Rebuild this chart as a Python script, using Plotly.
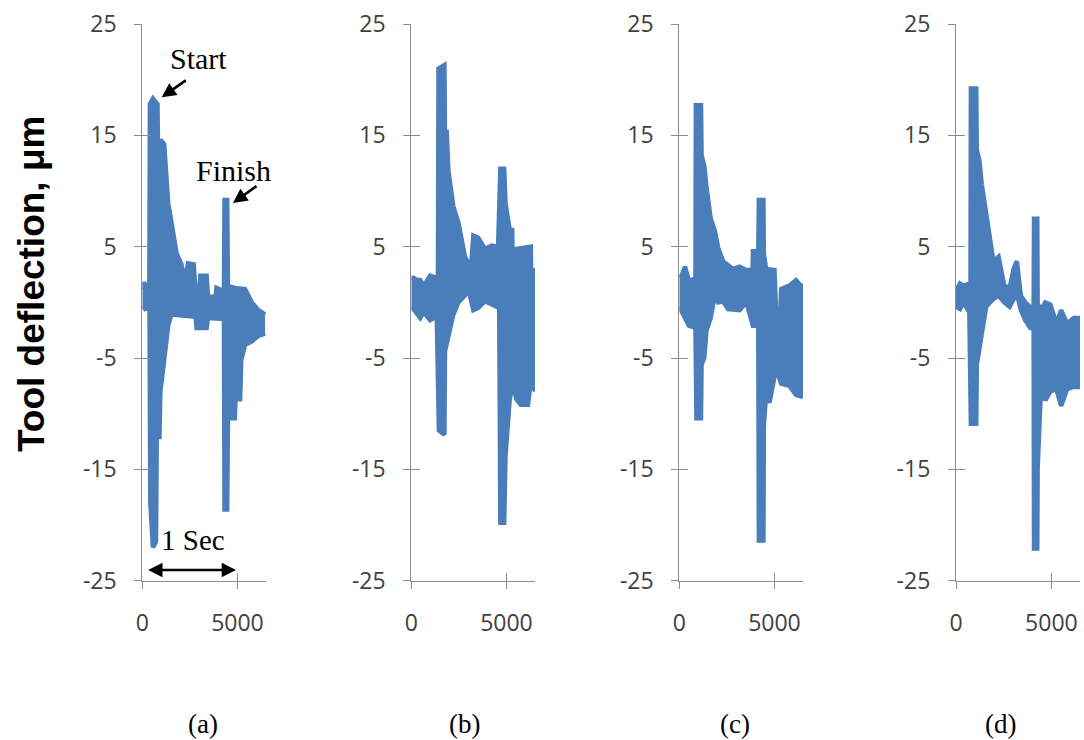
import plotly.graph_objects as go

W, H = 1084, 740

# ---------------- data (upper / lower envelope of the dense signal) ----------------
Y_TICKS = [-25, -15, -5, 5, 15, 25]
X_TICKS = [0, 5000]
PANEL_LABELS = ["(a)", "(b)", "(c)", "(d)"]

# panel (a)
xu_a = [0, 100, 250, 370, 400, 560, 800, 830, 900, 950, 1150, 1230, 1360, 1530, 1800, 2060, 2240, 2400,
        2700, 2800, 3000, 3050, 3380, 3450, 3850, 3900, 4200, 4290, 4320, 4460, 4500, 4860, 5400, 5750,
        6100, 6450]
yu_a = [1.2, 1.8, 1.0, 1.2, 17.8, 18.3, 17.8, 12.7, 12.7, 14.6, 14.2, 11.5, 8.9, 7.2, 4.4, 3.4, 1.8, 3.5,
        3.4, 1.0, 1.0, 2.4, 2.4, 0.5, 0.5, 1.3, 1.0, 1.0, 9.2, 9.2, 1.5, 1.3, 1.2, 0.0,
        -0.7, -1.1]
xl_a = [0, 150, 300, 380, 420, 560, 720, 760, 900, 950, 1100, 1230, 1360, 1530, 2800, 2850, 3380, 3450,
        4200, 4290, 4320, 4460, 4500, 4860, 4900, 5140, 5200, 5400, 5760, 6100, 6450]
yl_a = [-0.3, -0.6, -0.5, -0.3, -18.0, -22.0, -21.5, -12.1, -12.1, -8.0, -5.9, -3.8, -2.1, -1.1, -1.3, -2.3, -2.3, -1.4,
        -1.5, -1.5, -18.6, -18.6, -10.4, -10.4, -8.7, -8.7, -5.2, -3.8, -3.5, -3.0, -2.8]

# panel (b)
xu_b = [0, 120, 300, 470, 650, 990, 1340, 1400, 1430, 1740, 1770, 1860, 1950, 2210, 2470, 2820, 3030, 3150,
        3260, 3520, 3870, 4220, 4560, 4680, 4880, 4950, 5170, 5300, 5350, 5500, 5520, 6130, 6280, 6300,
        6350, 6500]
yu_b = [2.2, 2.2, 2.0, 2.0, 1.5, 2.4, 2.2, 2.2, 21.0, 21.3, 15.3, 15.3, 11.8, 8.6, 7.2, 4.1, 3.4, 3.4,
        6.0, 5.8, 4.8, 5.1, 5.0, 12.0, 12.0, 8.9, 6.5, 6.5, 1.0, 1.0, 4.8, 5.0, 5.0, 1.7,
        2.9, 2.9]
xl_b = [0, 120, 470, 650, 990, 1340, 1450, 1740, 1770, 1950, 2210, 2470, 2820, 3030, 3260, 3520, 3870, 4560,
        4620, 4680, 4880, 4950, 5170, 5350, 5520, 5750, 6130, 6300, 6500]
yl_b = [-0.6, -0.6, -1.4, -0.9, -1.6, -1.3, -11.5, -11.9, -4.4, -3.1, -1.1, 0.0, 0.6, 1.0, -0.7, -0.5, 0.1, -0.5,
        -0.5, -19.8, -19.8, -13.8, -8.7, -7.3, -8.7, -9.2, -9.2, -6.9, -8.0]

# panel (c)
xu_c = [0, 120, 300, 500, 650, 850, 870, 1140, 1170, 1310, 1430, 1650, 1860, 2040, 2300, 2560, 2820, 3170,
        3520, 3850, 3870, 4150, 4180, 4420, 4440, 4560, 5000, 5090, 5300, 5350, 5780, 6130, 6390, 6500]
yu_c = [2.5, 2.4, 3.2, 2.0, 2.0, 2.2, 17.7, 17.7, 13.2, 12.3, 10.3, 7.5, 6.5, 4.9, 3.7, 3.4, 3.0, 3.2,
        2.9, 2.9, 4.6, 4.6, 9.2, 9.2, 4.4, 3.0, 2.9, -1.1, -1.1, 1.2, 1.5, 2.0, 1.5, 1.5]
xl_c = [0, 120, 300, 500, 850, 900, 1140, 1170, 1310, 1430, 1650, 1860, 2040, 2300, 2560, 3170, 3520, 3870,
        4150, 4180, 4420, 4440, 4560, 4740, 5090, 5350, 5780, 6130, 6390, 6500]
yl_c = [-0.4, -0.9, -1.4, -2.1, -2.3, -10.4, -10.4, -5.6, -5.0, -2.5, -1.4, 0.6, 0.0, 0.1, -0.6, -0.7, 0.0, -2.1,
        -2.1, -21.4, -21.4, -11.1, -8.3, -9.0, -5.9, -7.3, -7.5, -8.3, -8.5, -8.5]

# panel (d)
xu_d = [0, 210, 390, 700, 760, 780, 1060, 1090, 1230, 1350, 1580, 1790, 1960, 2230, 2530, 2810, 3020, 3190,
        3400, 3630, 3890, 4070, 4090, 4260, 4280, 4460, 4680, 4950, 5260, 5510, 5820, 6170, 6500]
yu_d = [1.0, 1.7, 1.5, 1.7, 1.7, 19.2, 19.2, 13.7, 12.7, 10.6, 7.9, 5.6, 3.7, 4.1, 1.5, 1.3, 3.0, 3.7,
        0.6, 0.0, -0.4, -0.4, 7.5, 7.5, -0.1, -0.7, 0.0, -0.2, -1.9, -0.7, -1.9, -1.4, -1.4]
xl_d = [0, 210, 390, 700, 780, 1060, 1090, 1230, 1350, 1580, 1790, 1960, 2230, 2530, 2810, 3020, 3190, 3400,
        3630, 3890, 4070, 4090, 4260, 4280, 4460, 4680, 4950, 5260, 5510, 5820, 6170, 6500]
yl_d = [-0.4, -0.6, 0.0, -0.9, -10.9, -10.9, -5.6, -4.0, -2.5, -0.4, 0.0, 0.3, 0.6, 0.0, -0.4, 0.3, 0.8, -0.7,
        -1.6, -2.3, -2.3, -22.1, -22.1, -14.8, -7.6, -8.8, -8.0, -7.8, -9.3, -7.8, -7.6, -7.6]

panels = [(xu_a, yu_a, xl_a, yl_a), (xu_b, yu_b, xl_b, yl_b),
          (xu_c, yu_c, xl_c, yl_c), (xu_d, yu_d, xl_d, yl_d)]

# ---------------- styling ----------------
BLUE = "#4A7EBB"
AXIS = "#8C8C8C"
TICKFONT = dict(family="Open Sans", size=23, color="#404040")
SERIF = "Liberation Serif"
X_DOMAINS_PX = [(142.3, 266), (411.3, 535), (679.3, 803), (956, 1080)]
Y_DOMAIN = [1 - 580.7 / H, 1 - 24 / H]
X_RANGE = [0, 6500]
Y_RANGE = [-25, 25]


def px(x):
    return x / W


def py(y):
    return 1 - y / H


fig = go.Figure()
layout = dict(width=W, height=H, margin=dict(l=0, r=0, t=0, b=0, pad=0, autoexpand=False), autosize=False,
              paper_bgcolor="white", plot_bgcolor="white", showlegend=False)

for i, (xu, yu, xl, yl) in enumerate(panels):
    n = i + 1
    xn = "x" if n == 1 else f"x{n}"
    yn = "y" if n == 1 else f"y{n}"
    common = dict(xaxis=xn, yaxis=yn, mode="lines", line=dict(color=BLUE, width=4.5),
                  hoverinfo="skip", showlegend=False)
    fig.add_trace(go.Scatter(x=xl, y=yl, **common))
    fig.add_trace(go.Scatter(x=xu, y=yu, fill="tonexty", fillcolor=BLUE, **common))

    d0, d1 = X_DOMAINS_PX[i]
    layout[f"xaxis{'' if n == 1 else n}"] = dict(
        domain=[px(d0), px(d1)], range=X_RANGE, tickvals=X_TICKS, ticktext=[str(v) for v in X_TICKS],
        ticks="inside", ticklen=8, tickcolor=AXIS, tickwidth=1.2, showline=True, linecolor=AXIS,
        linewidth=1.2, showgrid=False, zeroline=False, tickfont=TICKFONT, anchor=yn,
        ticklabelstandoff=22, automargin=False)
    layout[f"yaxis{'' if n == 1 else n}"] = dict(
        domain=Y_DOMAIN, range=Y_RANGE, tickvals=Y_TICKS, ticktext=[str(v) for v in Y_TICKS],
        ticks="inside", ticklen=9, tickcolor=AXIS, tickwidth=1.2, showline=True, linecolor=AXIS,
        linewidth=1.2, showgrid=False, zeroline=False, tickfont=TICKFONT, anchor=xn,
        ticklabelstandoff=20, automargin=False)
    # overlay axes to give "cross" tick marks (outside part)
    on = n + 4
    layout[f"xaxis{on}"] = dict(overlaying=xn, anchor=yn, range=X_RANGE, tickvals=X_TICKS,
                                ticks="outside", ticklen=7, tickcolor=AXIS, tickwidth=1.2,
                                showticklabels=False, showline=False, showgrid=False, zeroline=False,
                                automargin=False)
    layout[f"yaxis{on}"] = dict(overlaying=yn, anchor=xn, range=Y_RANGE, tickvals=Y_TICKS,
                                ticks="outside", ticklen=7, tickcolor=AXIS, tickwidth=1.2,
                                showticklabels=False, showline=False, showgrid=False, zeroline=False,
                                automargin=False)
    fig.add_trace(go.Scatter(x=[None], y=[None], xaxis=f"x{on}", yaxis=f"y{on}", mode="lines",
                             hoverinfo="skip", showlegend=False))

annotations = []
# y-axis title
annotations.append(dict(text="<b>Tool deflection, μm</b>", x=px(31), y=py(284), xref="paper", yref="paper",
                        textangle=-90, showarrow=False, xanchor="center", yanchor="middle",
                        font=dict(family="Liberation Sans", size=37, color="black")))
# panel labels
for lab, cx in zip(PANEL_LABELS, [202.5, 464, 735, 1000]):
    annotations.append(dict(text=lab, x=px(cx), y=py(724), xref="paper", yref="paper", showarrow=False,
                            xanchor="center", yanchor="middle",
                            font=dict(family=SERIF, size=27, color="black")))
# Start / Finish / 1 Sec text
annotations.append(dict(text="Start", x=px(198), y=py(59), xref="paper", yref="paper", showarrow=False,
                        xanchor="center", yanchor="middle", font=dict(family=SERIF, size=30, color="black")))
annotations.append(dict(text="Finish", x=px(233.5), y=py(171), xref="paper", yref="paper", showarrow=False,
                        xanchor="center", yanchor="middle", font=dict(family=SERIF, size=30, color="black")))
annotations.append(dict(text="1 Sec", x=px(193), y=py(540), xref="paper", yref="paper", showarrow=False,
                        xanchor="center", yanchor="middle", font=dict(family=SERIF, size=29, color="black")))
# arrows
arrow_common = dict(text="", xref="paper", yref="paper", showarrow=True, arrowhead=2, arrowsize=1.1,
                    arrowwidth=2.6, arrowcolor="black", standoff=0, startstandoff=0)
annotations.append(dict(x=px(161.7), y=py(97.3), ax=25.6, ay=-18, **arrow_common))
annotations.append(dict(x=px(233), y=py(203), ax=25, ay=-18, **arrow_common))
annotations.append(dict(x=px(236), y=py(570), ax=-89.3, ay=0, arrowside="end+start", startarrowhead=2,
                        startarrowsize=1.1, **arrow_common))

layout["annotations"] = annotations
fig.update_layout(**layout)
fig.write_html("out.html", config={"displayModeBar": False, "staticPlot": False},
               post_script="document.body.style.margin='0';document.body.style.overflow='hidden';")
